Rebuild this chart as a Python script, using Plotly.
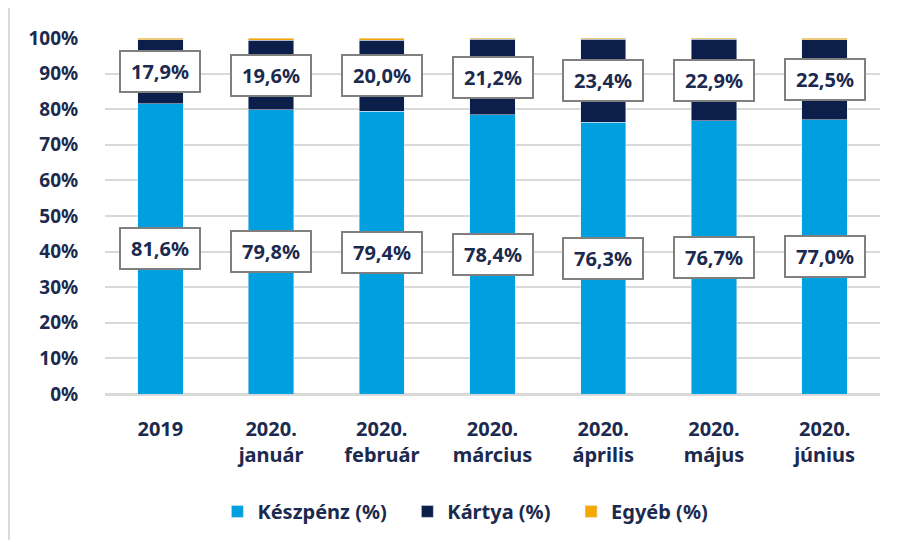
import plotly.graph_objects as go

categories = ["2019", "2020. január", "2020. február", "2020. március",
              "2020. április", "2020. május", "2020. június"]
keszpenz = [81.6, 79.8, 79.4, 78.4, 76.3, 76.7, 77.0]
kartya = [17.9, 19.6, 20.0, 21.2, 23.4, 22.9, 22.5]
egyeb = [0.5, 0.6, 0.6, 0.4, 0.3, 0.4, 0.5]
y_ticks = list(range(0, 101, 10))

txt = "#1B2A4E"
font_family = "Noto Sans, Open Sans, sans-serif"

tick_labels = ["<b>" + c.replace(" ", "</b><br><b>") + "</b>" for c in categories]

fig = go.Figure()
fig.add_bar(x=tick_labels, y=keszpenz, name="<b>Készpénz (%)</b>   ", marker_color="#009FDF", width=0.41)
fig.add_bar(x=tick_labels, y=kartya, name="<b>Kártya (%)</b>   ", marker_color="#0C1F4A", width=0.41)
fig.add_bar(x=tick_labels, y=egyeb, name="<b>Egyéb (%)</b>", marker_color="#F5A800", width=0.41)

def fmt(v):
    return f"{v:.1f}%".replace(".", ",")

for i, (k, ka) in enumerate(zip(keszpenz, kartya)):
    for yv, val in ((k / 2, k), (k + ka / 2, ka)):
        fig.add_annotation(x=i, y=yv, text="<b>" + fmt(val) + "</b>", showarrow=False,
                           font=dict(size=20, color=txt, family=font_family),
                           bgcolor="white", bordercolor="#7F7F7F", borderwidth=2,
                           borderpad=6, width=66)

fig.add_shape(type="line", xref="paper", yref="paper", x0=-0.124, x1=-0.124, y0=-0.45, y1=1.1,
              line=dict(color="#D9D9D9", width=2))

fig.update_layout(
    barmode="stack",
    width=910, height=540,
    margin=dict(l=97, r=38, t=30, b=154, autoexpand=False),
    plot_bgcolor="white", paper_bgcolor="white",
    font=dict(family=font_family, color=txt, size=18),
    showlegend=True,
    legend=dict(orientation="h", x=0.465, xanchor="center", y=-0.275, yanchor="top",
                font=dict(size=20, color=txt, family=font_family), traceorder="normal"),
    xaxis=dict(type="category", tickfont=dict(size=20, color=txt), showline=True,
               linecolor="#D9D9D9", linewidth=1.5, ticks="outside", ticklen=16,
               tickcolor="rgba(0,0,0,0)"),
    yaxis=dict(range=[0, 100], showgrid=True,
               gridcolor="#D9D9D9", gridwidth=1.5, zeroline=True, zerolinecolor="#D9D9D9",
               zerolinewidth=1.5, tickfont=dict(size=19, color=txt),
               ticks="outside", ticklen=22, tickcolor="rgba(0,0,0,0)",
               tickvals=y_ticks, ticktext=[f"<b>{v}%</b>" for v in y_ticks], showline=False),
)

fig.write_html("out.html")
